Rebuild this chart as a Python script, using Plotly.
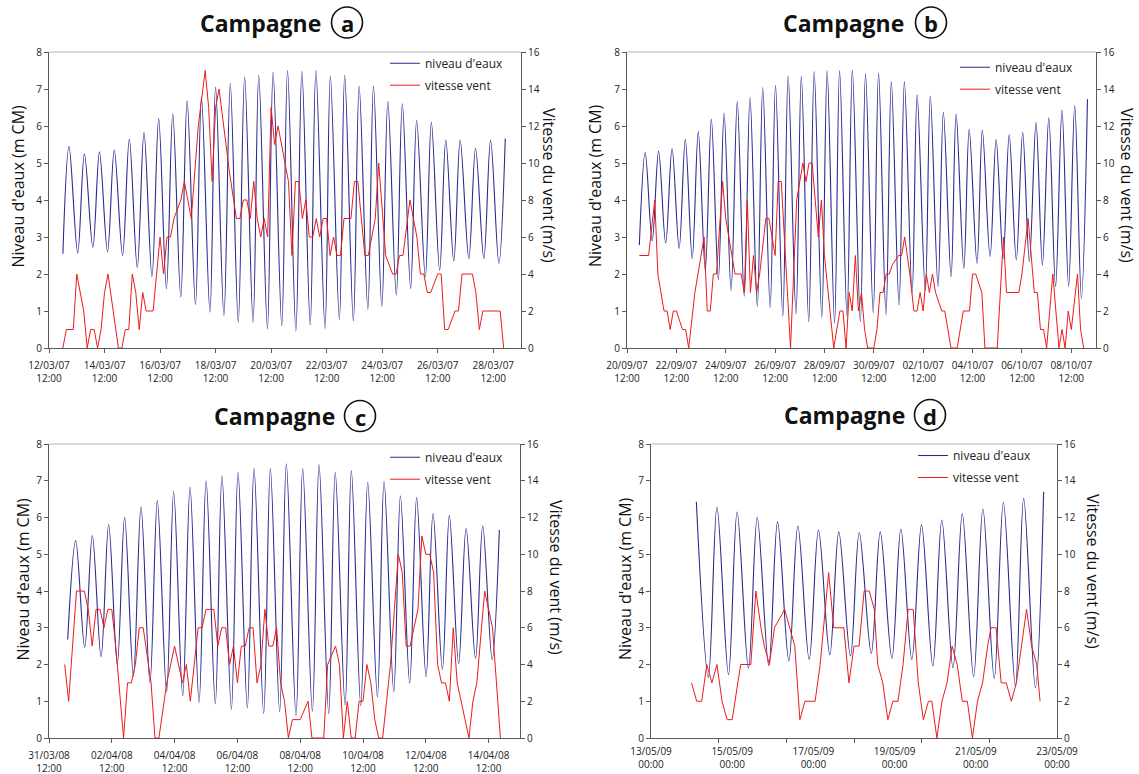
import pandas as pd
import plotly.graph_objects as go

W, H = 1139, 774

# ---------------- data ----------------
# hours counted from each campaign's data start; tide = successive high / low waters
a_start = "2007-03-13 00:00"
a_tide_h = [0, 5.3, 12.8, 18.6, 25.9, 31.6, 38.6, 44.4, 51.6, 57.4, 64.3, 70.1, 77.0, 82.8, 89.5, 95.0,
            101.9, 107.4, 114.6, 119.8, 127.1, 132.0, 139.2, 144.7, 151.6, 157.1, 164.4, 169.3, 176.8,
            181.7, 189.2, 194.2, 201.4, 206.6, 213.8, 218.7, 226.6, 231.2, 239.0, 243.6, 251.1, 256.1,
            263.6, 268.5, 275.7, 280.9, 288.2, 293.4, 300.6, 305.8, 313.3, 318.5, 325.7, 331.0, 337.9,
            343.4, 350.9, 356.7, 363.9, 369.7, 376.9, 382.4]
a_tide_v = [2.55, 5.45, 2.57, 5.25, 2.72, 5.3, 2.6, 5.35, 2.5, 5.65, 2.17, 5.82, 1.93, 6.2, 1.6, 6.33,
            1.38, 6.68, 1.17, 6.78, 0.97, 7.05, 0.87, 7.15, 0.7, 7.32, 0.7, 7.37, 0.52, 7.45, 0.6, 7.5,
            0.46, 7.48, 0.62, 7.5, 0.53, 7.35, 0.77, 7.37, 0.73, 7.08, 1.05, 7.08, 1.12, 6.67, 1.43, 6.6,
            1.61, 6.15, 1.93, 6.1, 2.1, 5.62, 2.35, 5.62, 2.42, 5.4, 2.42, 5.62, 2.29, 5.66]
a_wind_h = [0, 3, 9, 12, 18, 21, 24, 27, 30, 33, 36, 39, 48, 51, 54, 57, 60, 63, 66, 69,
            72, 78, 84, 87, 90, 93, 96, 102, 105, 111, 117, 123, 126, 129, 132, 135, 141, 144, 150, 153,
            156, 159, 162, 165, 168, 171, 174, 177, 180, 183, 186, 195, 198, 201, 204, 207, 210, 213, 216, 219,
            222, 225, 228, 231, 234, 237, 240, 243, 249, 252, 255, 258, 261, 264, 270, 273, 279, 285, 288, 291,
            294, 300, 306, 309, 312, 315, 318, 324, 327, 330, 333, 339, 342, 345, 354, 357, 360, 363, 378, 381]
a_wind_v = [0, 1, 1, 4, 2, 0, 1, 1, 0, 1, 3, 4, 0, 0, 1, 1, 4, 3, 1, 3,
            2, 2, 6, 4, 6, 6, 7, 8, 9, 7, 12, 15, 13, 9, 13, 14, 11, 9.5, 7, 7,
            8, 8, 7, 9, 7, 6, 7, 6, 13, 11, 12, 9, 5, 9, 9, 7, 8, 6, 6, 7,
            6, 7, 7, 5, 6, 5, 5, 7, 7, 9, 9, 7, 5, 5, 7, 10, 5, 4, 4, 5,
            5, 8, 6, 4, 4, 3, 3, 4, 4, 1, 1, 2, 2, 4, 4, 3, 1, 2, 2, 0]

b_start = "2007-09-21 00:00"
b_tide_h = [0, 5.7, 12.5, 18.7, 25.6, 31.8, 38.7, 44.7, 51.4, 57.3, 64.1, 70.0, 76.8, 82.4, 89.2, 95.2,
            102.0, 107.6, 114.7, 120.0, 127.2, 132.4, 139.5, 144.7, 152.3, 157.5, 164.7, 170.0, 177.4,
            182.6, 189.8, 194.7, 201.9, 207.1, 214.9, 219.9, 227.4, 232.6, 239.8, 245.0, 252.5, 257.7,
            265.2, 270.1, 278.0, 282.9, 290.4, 295.6, 303.1, 308.0, 315.5, 320.7, 328.3, 333.5, 341.0,
            346.9, 353.7, 359.6, 366.5, 372.7, 379.2, 385.7, 391.9, 398.1, 404.7, 410.9, 417.4, 423.3,
            429.8, 435.7]
b_tide_v = [2.78, 5.28, 2.9, 5.32, 2.83, 5.39, 2.69, 5.64, 2.42, 5.84, 2.1, 6.18, 1.85, 6.34, 1.55, 6.66,
            1.4, 6.77, 1.12, 7.04, 1.09, 7.1, 0.86, 7.35, 0.92, 7.35, 0.71, 7.47, 0.83, 7.49, 0.67, 7.5,
            0.85, 7.51, 0.71, 7.42, 0.95, 7.44, 0.89, 7.2, 1.16, 7.2, 1.48, 6.84, 1.55, 6.81, 1.66, 6.37,
            1.93, 6.32, 2.15, 5.91, 2.29, 5.89, 2.47, 5.64, 2.42, 5.77, 2.38, 5.83, 2.33, 6.09, 2.24, 6.22,
            1.66, 6.43, 1.66, 6.55, 1.34, 6.72]
b_wind_h = [0, 9, 15, 18, 24, 27, 30, 33, 36, 42, 45, 48, 54, 57, 63, 66, 69, 72, 75, 81,
            84, 90, 93, 99, 102, 105, 108, 111, 114, 117, 123, 126, 132, 135, 138, 147, 153, 159, 162, 165,
            168, 174, 177, 180, 189, 195, 198, 201, 204, 207, 210, 213, 216, 219, 222, 228, 231, 234, 237, 240,
            243, 246, 252, 255, 258, 263, 267, 270, 273, 276, 279, 282, 285, 288, 294, 297, 303, 309, 315, 321,
            324, 327, 333, 336, 348, 354, 357, 369, 372, 378, 384, 387, 390, 393, 396, 402, 408, 411, 414, 417,
            420, 426, 429, 432]
b_wind_v = [5, 5, 8, 4, 2, 2, 1, 2, 2, 1, 1, 0, 3, 4, 6, 2, 2, 4, 4, 9,
            7, 5, 4, 4, 3, 8, 3, 5, 3, 4, 7, 7, 5, 9, 9, 0, 8, 10, 9, 10,
            10, 6, 8, 5, 0, 2, 2, 0, 3, 2, 5, 2, 3, 1, 0, 0, 1, 3, 3, 4,
            4, 4.5, 5, 5, 6, 4, 2, 2, 3, 2, 4, 3, 4, 3, 2, 2, 0, 0, 2, 2,
            4, 4, 3, 0, 0, 6, 3, 3, 4, 7, 3, 3, 1, 1, 0, 4, 0, 1, 0, 2,
            1, 4, 1, 0]

c_start = "2008-04-01 00:00"
c_tide_h = [2.3, 8.4, 15.3, 21.1, 27.8, 33.6, 40.2, 45.8, 52.5, 58.3, 65.2, 70.8, 77.9, 83.3, 90.2, 95.8,
            102.7, 108.1, 115.1, 120.2, 127.4, 132.5, 139.6, 144.7, 152.1, 157.2, 164.3, 169.4, 176.8,
            181.9, 189.3, 194.4, 201.8, 206.8, 214.3, 219.1, 226.3, 231.6, 239.0, 244.1, 251.5, 256.6,
            263.7, 269.0, 276.2, 281.5, 288.7, 294.0, 301.1, 306.8, 314.0, 319.5, 326.7, 332.2]
c_tide_v = [2.68, 5.37, 2.47, 5.51, 2.21, 5.81, 2.01, 6.0, 1.69, 6.29, 1.51, 6.46, 1.26, 6.7, 1.15, 6.82,
            0.97, 7.0, 0.93, 7.13, 0.78, 7.22, 0.82, 7.33, 0.67, 7.33, 0.72, 7.46, 0.61, 7.34, 0.73, 7.44,
            0.67, 7.22, 0.9, 7.27, 0.88, 6.96, 1.12, 6.98, 1.26, 6.59, 1.49, 6.54, 1.67, 6.11, 1.87, 6.05,
            2.03, 5.7, 2.17, 5.77, 2.14, 5.66]
c_wind_h = [0, 3, 9, 15, 18, 21, 24, 27, 30, 33, 36, 39, 45, 48, 51, 54, 57, 60, 66, 69,
            72, 78, 84, 90, 93, 96, 102, 105, 108, 114, 117, 120, 123, 126, 129, 132, 135, 138, 141, 144,
            147, 150, 153, 156, 159, 162, 165, 168, 171, 174, 180, 186, 189, 198, 201, 207, 210, 213, 216, 219,
            222, 225, 228, 231, 234, 237, 240, 243, 246, 249, 252, 255, 258, 261, 264, 267, 270, 273, 276, 279,
            282, 285, 288, 291, 294, 297, 300, 309, 312, 315, 321, 327, 333]
c_wind_v = [4, 2, 8, 8, 7, 5, 7, 7, 6, 7, 7, 5, 0, 3, 3, 4, 6, 6, 3, 0,
            0, 3, 5, 3, 4, 2, 6, 6, 7, 7, 5, 6, 6, 4, 5, 3, 5, 5, 6, 6,
            3, 4, 7, 5, 5, 6, 3, 2, 0, 1, 1, 2, 0, 0, 4, 5, 4, 0, 2, 0,
            0, 2, 2, 4, 3, 1, 0, 0, 2, 4, 7, 10, 9, 5, 5, 6, 7, 11, 10, 10,
            9, 4, 3, 3, 2, 6, 3, 0, 2, 3, 8, 6, 0]

d_start = "2009-05-14 00:00"
d_tide_h = [2.8, 9.9, 15.0, 21.8, 26.9, 33.6, 38.8, 45.6, 50.8, 57.5, 62.8, 69.5, 75.0, 81.7, 87.0, 93.9,
            99.1, 106.2, 111.5, 118.4, 123.7, 130.2, 135.9, 142.6, 147.9, 154.5, 160.0, 166.7, 172.2,
            178.9, 184.3, 191.4, 196.3, 203.2, 208.1]
d_tide_v = [6.43, 1.65, 6.28, 1.73, 6.15, 1.9, 6.0, 1.97, 5.88, 2.1, 5.77, 2.14, 5.66, 2.26, 5.61, 2.23,
            5.59, 2.3, 5.61, 2.17, 5.68, 2.14, 5.8, 1.96, 5.93, 1.91, 6.1, 1.67, 6.23, 1.62, 6.41, 1.41,
            6.52, 1.37, 6.7]
d_wind_h = [0, 3, 6, 9, 12, 15, 18, 21, 24, 29, 35, 38, 41, 43, 46, 49, 55, 61, 64, 67,
            73, 76, 81, 84, 90, 93, 96, 99, 102, 105, 108, 110, 113, 116, 119, 122, 125, 128, 131, 134,
            137, 140, 142, 145, 148, 151, 154, 157, 160, 163, 166, 169, 172, 175, 177, 180, 183, 186, 189, 192,
            198, 201, 204, 206]
d_wind_v = [3, 2, 2, 4, 3, 4, 2, 1, 1, 4, 4, 8, 6, 5, 4, 6, 7, 5, 1, 2,
            2, 4, 9, 6, 6, 3, 5, 5, 8, 8, 7, 4, 3, 1, 2, 2, 4, 7, 7, 3,
            1, 2, 2, 0, 2, 3, 5, 4, 2, 2, 0, 2, 3, 5, 6, 6, 3, 3, 2, 3,
            7, 5, 4, 2]

# axis ranges / tick starts
a_range = ["2007-03-12 12:00", "2007-03-29 12:00"]
b_range = ["2007-09-20 12:00", "2007-10-09 12:00"]
c_range = ["2008-03-31 12:00", "2008-04-15 12:00"]
d_range = ["2009-05-13 00:00", "2009-05-23 00:00"]

letters = ["a", "b", "c", "d"]
legend_names = ["niveau d'eaux", "vitesse vent"]
left_title = "Niveau d'eaux (m CM)"
right_title = "Vitesse du vent (m/s)"

# ---------------- styling ----------------
BLUE = "#2a2a90"
RED = "#ee1a1a"
FONT = "Open Sans"
AXC = "#5a5a5a"


def px_x(p):
    return p / W


def px_y(p):
    return 1 - p / H


def times(start, hours):
    return pd.Timestamp(start) + pd.to_timedelta(hours, unit="h")


panels = [
    dict(start=a_start, th=a_tide_h, tv=a_tide_v, wh=a_wind_h, wv=a_wind_v, rng=a_range,
         dx=(49, 521), dy=(52, 348), lt=(17.5, 186), rt=(549, 185), leg=(427, 62.7),
         ttl=323, circ=(347, 22.5)),
    dict(start=b_start, th=b_tide_h, tv=b_tide_v, wh=b_wind_h, wv=b_wind_v, rng=b_range,
         dx=(627, 1096), dy=(52, 348), lt=(595, 186), rt=(1127, 185), leg=(997, 66.7),
         ttl=906, circ=(931, 22.5)),
    dict(start=c_start, th=c_tide_h, tv=c_tide_v, wh=c_wind_h, wv=c_wind_v, rng=c_range,
         dx=(49, 520), dy=(444, 738), lt=(22.5, 579), rt=(556, 577), leg=(427, 456.7),
         ttl=337, circ=(360, 416)),
    dict(start=d_start, th=d_tide_h, tv=d_tide_v, wh=d_wind_h, wv=d_wind_v, rng=d_range,
         dx=(651, 1057), dy=(444, 738), lt=(625, 579), rt=(1093, 571), leg=(955, 455),
         ttl=907, circ=(930, 415)),
]

fig = go.Figure()
layout = dict(width=W, height=H, margin=dict(l=0, r=0, t=0, b=0, pad=0, autoexpand=False),
              paper_bgcolor="white", plot_bgcolor="white",
              font=dict(family=FONT, size=10, color="#222"), showlegend=True)
annotations = []
shapes = []

for i, p in enumerate(panels, start=1):
    xs = "" if i == 1 else str(i)
    ys = "" if i == 1 else str(i)
    yr = str(i + 4)
    legname = "legend" if i == 1 else f"legend{i}"

    fig.add_trace(go.Scatter(
        x=times(p["start"], p["th"]), y=p["tv"], mode="lines", name=legend_names[0],
        line=dict(color=BLUE, width=1.1, shape="spline", smoothing=1.0),
        xaxis="x" + xs, yaxis="y" + ys, legend=legname, legendgroup=f"t{i}",
        hoverinfo="skip"))
    fig.add_trace(go.Scatter(
        x=times(p["start"], p["wh"]), y=p["wv"], mode="lines", name=legend_names[1],
        line=dict(color=RED, width=1.0),
        xaxis="x" + xs, yaxis="y" + yr, legend=legname, legendgroup=f"w{i}",
        hoverinfo="skip"))

    xdom = [px_x(p["dx"][0]), px_x(p["dx"][1])]
    ydom = [px_y(p["dy"][1]), px_y(p["dy"][0])]

    xa = dict(domain=xdom, anchor="y" + ys, type="date", range=p["rng"],
              tickmode="linear", tick0=p["rng"][0], dtick=2 * 86400000,
              tickformat="%d/%m/%y<br>%H:%M", showline=True, linecolor=AXC, linewidth=1,
              ticks="outside", ticklen=4, tickcolor=AXC, showgrid=False, zeroline=False,
              automargin=False, ticklabelstandoff=4,
              tickfont=dict(family=FONT, size=10, color="#222"))
    if i == 4:
        xa["ticks"] = ""
        xa["minor"] = dict(tickmode="linear", tick0=p["rng"][0], dtick=40 * 3600000,
                           ticks="outside", ticklen=4, tickcolor=AXC, showgrid=False)
    layout["xaxis" + xs] = xa
    layout["yaxis" + ys] = dict(domain=ydom, anchor="x" + xs, range=[0, 8], dtick=1,
                                showline=True, linecolor=AXC, linewidth=1, ticks="outside",
                                ticklen=4, tickcolor=AXC, showgrid=False, zeroline=False,
                                automargin=False,
                                tickfont=dict(family=FONT, size=10, color="#222"))
    layout["yaxis" + yr] = dict(overlaying="y" + ys, anchor="x" + xs, side="right",
                                range=[0, 16], dtick=2, showline=True, linecolor=AXC,
                                linewidth=1, ticks="outside", ticklen=4, tickcolor=AXC,
                                showgrid=False, zeroline=False, automargin=False,
                                tickfont=dict(family=FONT, size=10, color="#222"))

    # top border of the plot frame
    shapes.append(dict(type="line", xref="x" + xs + " domain", yref="y" + ys + " domain",
                       x0=0, x1=1, y0=1, y1=1, line=dict(color="#b4b4b4", width=1)))

    # legend
    layout[legname] = dict(x=px_x(p["leg"][0] - 42), y=px_y(p["leg"][1] - 14),
                           xanchor="left", yanchor="top", bgcolor="rgba(0,0,0,0)",
                           borderwidth=0, itemwidth=30, tracegroupgap=3,
                           font=dict(family=FONT, size=12, color="#222"))

    # axis titles
    annotations.append(dict(text=left_title, xref="paper", yref="paper",
                            x=px_x(p["lt"][0]), y=px_y(p["lt"][1]), textangle=-90,
                            showarrow=False, xanchor="center", yanchor="middle",
                            font=dict(family=FONT, size=16, color="#111")))
    annotations.append(dict(text=right_title, xref="paper", yref="paper",
                            x=px_x(p["rt"][0]), y=px_y(p["rt"][1]), textangle=90,
                            showarrow=False, xanchor="center", yanchor="middle",
                            font=dict(family=FONT, size=16, color="#111")))

    # panel title "Campagne (x)"
    cx, cy = p["circ"]
    annotations.append(dict(text="<b>Campagne</b>", xref="paper", yref="paper",
                            x=px_x(p["ttl"]), y=px_y(cy), xanchor="right", yanchor="middle",
                            showarrow=False, font=dict(family=FONT, size=23, color="#111")))
    annotations.append(dict(text="<b>" + letters[i - 1] + "</b>", xref="paper", yref="paper",
                            x=px_x(cx), y=px_y(cy + 1), xanchor="center", yanchor="middle",
                            showarrow=False, font=dict(family=FONT, size=22, color="#111")))
    r = 15.5
    shapes.append(dict(type="circle", xref="paper", yref="paper",
                       x0=px_x(cx - r), x1=px_x(cx + r), y0=px_y(cy + r), y1=px_y(cy - r),
                       line=dict(color="#111", width=1.6)))

layout["annotations"] = annotations
layout["shapes"] = shapes
fig.update_layout(**layout)
fig.write_html("out.html", config={"displayModeBar": False},
               post_script="document.body.style.margin='0';")
